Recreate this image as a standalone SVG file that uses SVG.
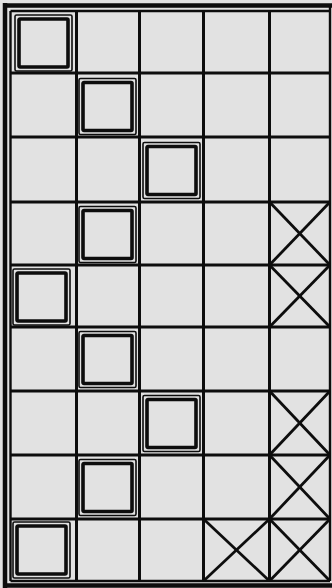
<svg xmlns="http://www.w3.org/2000/svg" width="332" height="588" viewBox="0 0 332 588">
<style>
.bg{fill:#e2e2e2}
.grid{stroke:#0d0d0d;stroke-width:3;fill:none}
.outer{stroke:#0d0d0d;stroke-width:4.5;fill:none}
.inner{stroke:#0d0d0d;stroke-width:2.4;fill:none}
.bo{stroke:#0d0d0d;stroke-width:1.6;fill:none}
.bi{stroke:#0d0d0d;stroke-width:3.6;fill:none}
.x{stroke:#0d0d0d;stroke-width:2.8;fill:none}
</style>
<defs>
<g id="box">
<rect class="bo" x="0" y="0" width="57" height="56" rx="1.5"/>
<rect class="bi" x="4" y="4" width="49" height="48" rx="1"/>
</g>
</defs>
<rect class="bg" x="0" y="0" width="332" height="588"/>
<g id="frame">
<line class="outer" x1="3" y1="5.5" x2="332" y2="5.5"/>
<line class="outer" x1="5" y1="3" x2="5" y2="588"/>
<line class="outer" x1="3" y1="585.5" x2="332" y2="585.5"/>
<line class="inner" x1="10.5" y1="11" x2="330" y2="11"/>
<line class="inner" x1="10.5" y1="11" x2="10.5" y2="581"/>
<line class="inner" x1="10.5" y1="581" x2="330" y2="581"/>
<line class="inner" x1="330" y1="5" x2="330" y2="581"/>
</g>
<g id="grid" class="grid">
<line x1="76.5" y1="11" x2="76.5" y2="581"/>
<line x1="139.5" y1="11" x2="139.5" y2="581"/>
<line x1="203.5" y1="11" x2="203.5" y2="581"/>
<line x1="269.5" y1="11" x2="269.5" y2="581"/>
<line x1="10.5" y1="73" x2="330" y2="73"/>
<line x1="10.5" y1="137" x2="330" y2="137"/>
<line x1="10.5" y1="202" x2="330" y2="202"/>
<line x1="10.5" y1="265" x2="330" y2="265"/>
<line x1="10.5" y1="327" x2="330" y2="327"/>
<line x1="10.5" y1="391" x2="330" y2="391"/>
<line x1="10.5" y1="455" x2="330" y2="455"/>
<line x1="10.5" y1="519" x2="330" y2="519"/>
</g>
<g id="box-r1c1"><use href="#box" x="15" y="15"/></g>
<g id="box-r2c2"><use href="#box" x="79" y="78.5"/></g>
<g id="box-r3c3"><use href="#box" x="143" y="142.5"/></g>
<g id="box-r4c2"><use href="#box" x="79" y="206.5"/></g>
<g id="box-r5c1"><use href="#box" x="13" y="269"/></g>
<g id="box-r6c2"><use href="#box" x="79" y="331.5"/></g>
<g id="box-r7c3"><use href="#box" x="143" y="395.5"/></g>
<g id="box-r8c2"><use href="#box" x="79" y="459.5"/></g>
<g id="box-r9c1"><use href="#box" x="13" y="522"/></g>
<g id="x-r4c5" class="x"><line x1="269.5" y1="202" x2="330" y2="265"/><line x1="330" y1="202" x2="269.5" y2="265"/></g>
<g id="x-r5c5" class="x"><line x1="269.5" y1="265" x2="330" y2="327"/><line x1="330" y1="265" x2="269.5" y2="327"/></g>
<g id="x-r7c5" class="x"><line x1="269.5" y1="391" x2="330" y2="455"/><line x1="330" y1="391" x2="269.5" y2="455"/></g>
<g id="x-r8c5" class="x"><line x1="269.5" y1="455" x2="330" y2="519"/><line x1="330" y1="455" x2="269.5" y2="519"/></g>
<g id="x-r9c4" class="x"><line x1="203.5" y1="519" x2="269.5" y2="581"/><line x1="269.5" y1="519" x2="203.5" y2="581"/></g>
<g id="x-r9c5" class="x"><line x1="269.5" y1="519" x2="330" y2="581"/><line x1="330" y1="519" x2="269.5" y2="581"/></g>
</svg>
